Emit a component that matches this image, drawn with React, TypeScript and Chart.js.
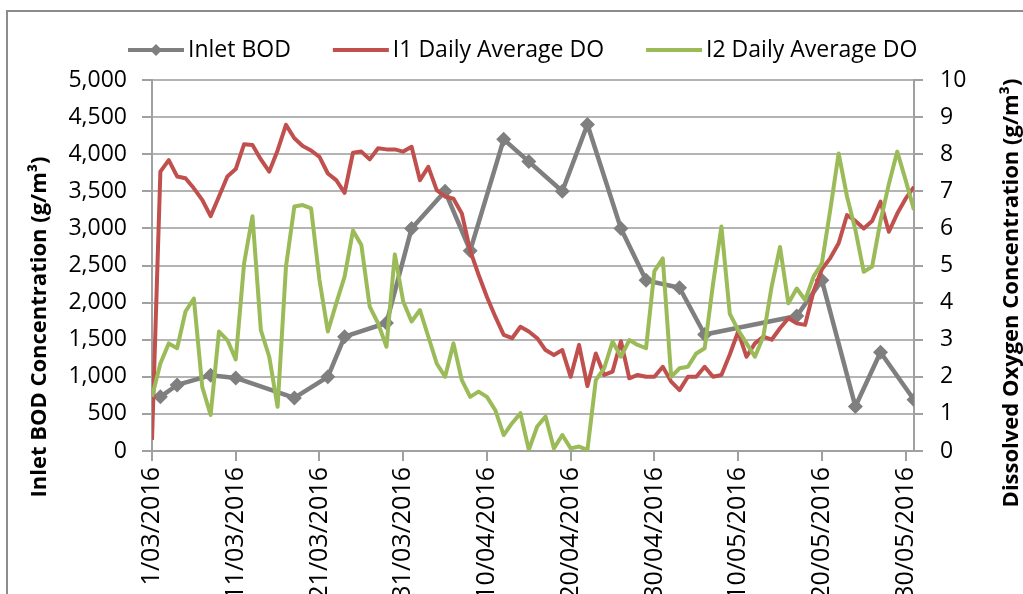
import React, { useEffect, useRef } from 'react';
import { Chart, registerables } from 'chart.js';

Chart.register(...registerables);

// Day offsets are counted from 1 March 2016 (day 0)
const xDayMin = 0;
const xDayMax = 91;
const xTickStep = 10;

const bodDays = [1, 3, 7, 10, 17, 21, 23, 28, 31, 35, 38, 42, 45, 49, 52, 56, 59, 63, 66, 77, 80, 84, 87, 91];
const bodValues = [730, 890, 1020, 985, 715, 1000, 1540, 1725, 3000, 3500, 2700, 4200, 3900, 3500, 4400, 3000, 2300, 2200, 1570, 1820, 2300, 600, 1330, 690];

const i1DailyDO = [
  0.3, 7.53, 7.84, 7.4, 7.35, 7.08, 6.77, 6.33, 6.86, 7.4,
  7.6, 8.27, 8.25, 7.86, 7.53, 8.1, 8.79, 8.43, 8.22, 8.1,
  7.93, 7.48, 7.3, 6.96, 8.04, 8.07, 7.86, 8.16, 8.13, 8.13,
  8.07, 8.2, 7.3, 7.66, 7.03, 6.86, 6.8, 6.4, 5.4, 4.75,
  4.15, 3.62, 3.13, 3.04, 3.35, 3.22, 3.04, 2.72, 2.59, 2.72,
  2.0, 2.86, 1.75, 2.63, 2.05, 2.14, 2.96, 1.96, 2.05, 2.0,
  2.0, 2.27, 1.87, 1.64, 2.0, 2.0, 2.27, 2.0, 2.05, 2.6,
  3.22, 2.54, 2.9, 3.08, 3.0, 3.31, 3.58, 3.44, 3.4, 4.3,
  4.9, 5.2, 5.6, 6.36, 6.2, 6.0, 6.2, 6.72, 5.91, 6.4,
  6.8, 7.12,
];

const i2DailyDO = [
  1.46, 2.36, 2.9, 2.77, 3.76, 4.11, 1.73, 0.97, 3.22, 2.99,
  2.47, 5.06, 6.33, 3.26, 2.54, 1.19, 4.97, 6.59, 6.63, 6.54,
  4.61, 3.22, 3.98, 4.7, 5.94, 5.55, 3.89, 3.44, 2.81, 5.3,
  4.03, 3.49, 3.8, 3.08, 2.36, 2.0, 2.9, 1.91, 1.46, 1.6,
  1.46, 1.1, 0.43, 0.75, 1.02, 0.03, 0.66, 0.93, 0.07, 0.43,
  0.07, 0.12, 0.03, 1.91, 2.23, 2.95, 2.54, 2.99, 2.86, 2.77,
  4.85, 5.19, 2.0, 2.23, 2.27, 2.63, 2.77, 4.5, 6.05, 3.7,
  3.26, 2.9, 2.54, 3.08, 4.43, 5.5, 3.98, 4.38, 4.07, 4.7,
  5.06, 6.5, 8.02, 6.86, 5.96, 4.83, 4.97, 6.2, 7.2, 8.07,
  7.3, 6.5,
];

const seriesNames = ['Inlet BOD', 'I1 Daily Average DO', 'I2 Daily Average DO'];
const seriesColors = ['#7f7f7f', '#c0504d', '#9bbb59'];
const leftTitle = 'Inlet BOD Concentration (g/m\u00B3)';
const rightTitle = 'Dissolved Oxygen Concentration (g/m\u00B3)';
const bodAxis = { min: 0, max: 5000, step: 500 };
const doAxis = { min: 0, max: 10, step: 1 };

const FONT = '"Open Sans", "DejaVu Sans", sans-serif';
const CANVAS_W = 1023;
const CANVAS_H = 660;

function dayLabel(d: number): string {
  const dt = new Date(2016, 2, 1 + d);
  return `${dt.getDate()}/${String(dt.getMonth() + 1).padStart(2, '0')}/${dt.getFullYear()}`;
}

const decorPlugin = {
  id: 'decor',
  beforeDraw(chart: any) {
    const ctx = chart.ctx;
    ctx.save();
    ctx.fillStyle = '#ffffff';
    ctx.fillRect(0, 0, chart.width, chart.height);
    ctx.strokeStyle = '#8c8c8c';
    ctx.lineWidth = 2;
    ctx.beginPath();
    ctx.moveTo(7, chart.height);
    ctx.lineTo(7, 11);
    ctx.lineTo(chart.width, 11);
    ctx.stroke();
    ctx.restore();
  },
  afterDraw(chart: any) {
    const ctx = chart.ctx;
    const area = chart.chartArea;
    ctx.save();
    // axis titles
    ctx.fillStyle = '#000';
    ctx.font = `bold 22px ${FONT}`;
    ctx.textAlign = 'center';
    ctx.textBaseline = 'middle';
    ctx.save();
    ctx.translate(area.left - 112, area.top + 247);
    ctx.rotate(-Math.PI / 2);
    ctx.fillText(leftTitle, 0, 0);
    ctx.restore();
    ctx.save();
    ctx.translate(area.right + 98, area.top + 213);
    ctx.rotate(-Math.PI / 2);
    ctx.fillText(rightTitle, 0, 0);
    ctx.restore();

    // legend
    const ly = 50;
    const lineLen = 56;
    const gap = 4;
    const spacing = 42;
    let x = 128;
    ctx.font = `23px ${FONT}`;
    ctx.textAlign = 'left';
    seriesNames.forEach((name, i) => {
      ctx.strokeStyle = seriesColors[i];
      ctx.lineWidth = 4;
      ctx.lineCap = 'butt';
      ctx.beginPath();
      ctx.moveTo(x, ly);
      ctx.lineTo(x + lineLen, ly);
      ctx.stroke();
      if (i === 0) {
        const cx = x + lineLen / 2;
        const r = 6;
        ctx.fillStyle = seriesColors[i];
        ctx.beginPath();
        ctx.moveTo(cx, ly - r);
        ctx.lineTo(cx + r, ly);
        ctx.lineTo(cx, ly + r);
        ctx.lineTo(cx - r, ly);
        ctx.closePath();
        ctx.fill();
      }
      ctx.fillStyle = '#000';
      const tx = x + lineLen + gap;
      ctx.fillText(name, tx, ly);
      x = tx + ctx.measureText(name).width + spacing;
    });
    ctx.restore();
  },
};

export default function App() {
  const ref = useRef<HTMLCanvasElement | null>(null);

  useEffect(() => {
    document.body.style.margin = '0';
    document.body.style.overflow = 'hidden';
    const canvas = ref.current;
    if (!canvas) return;

    const gridColor = '#b4b4b4';
    const axisColor = '#a0a0a0';

    const chart = new Chart(canvas, {
      type: 'line',
      data: {
        datasets: [
          {
            label: seriesNames[0],
            data: bodDays.map((d, i) => ({ x: d, y: bodValues[i] })),
            yAxisID: 'y',
            borderColor: seriesColors[0],
            backgroundColor: seriesColors[0],
            borderWidth: 4.5,
            pointStyle: 'rectRot',
            pointRadius: 7.5,
            pointBorderWidth: 0,
            pointBackgroundColor: seriesColors[0],
            tension: 0,
            order: 2,
            borderJoinStyle: 'round',
          },
          {
            label: seriesNames[1],
            data: i1DailyDO.map((v, i) => ({ x: i, y: v })),
            yAxisID: 'y2',
            borderColor: seriesColors[1],
            backgroundColor: seriesColors[1],
            borderWidth: 4,
            pointRadius: 0,
            tension: 0,
            order: 1,
            borderJoinStyle: 'round',
          },
          {
            label: seriesNames[2],
            data: i2DailyDO.map((v, i) => ({ x: i, y: v })),
            yAxisID: 'y2',
            borderColor: seriesColors[2],
            backgroundColor: seriesColors[2],
            borderWidth: 4,
            pointRadius: 0,
            tension: 0,
            order: 0,
            borderJoinStyle: 'round',
          },
        ],
      },
      options: {
        responsive: false,
        animation: false,
        devicePixelRatio: 1,
        layout: { padding: { top: 80, left: 0, right: 0, bottom: 0 } },
        plugins: {
          legend: { display: false },
          tooltip: { enabled: false },
        },
        scales: {
          x: {
            type: 'linear',
            min: xDayMin,
            max: xDayMax,
            afterFit(scale: any) {
              scale.height = CANVAS_H - 451;
            },
            grid: {
              drawOnChartArea: false,
              drawTicks: true,
              tickLength: 10,
              color: axisColor,
              lineWidth: 2,
            },
            border: { display: true, color: axisColor, width: 2 },
            ticks: {
              stepSize: xTickStep,
              includeBounds: false,
              autoSkip: false,
              minRotation: 90,
              maxRotation: 90,
              padding: 6,
              color: '#000',
              font: { family: FONT, size: 25 },
              callback: (v: any) => dayLabel(Number(v)),
            },
          },
          y: {
            type: 'linear',
            position: 'left',
            min: bodAxis.min,
            max: bodAxis.max,
            afterFit(scale: any) {
              scale.width = 152;
            },
            grid: {
              color: gridColor,
              lineWidth: 2,
              tickLength: 10,
              tickColor: axisColor,
            },
            border: { display: true, color: axisColor, width: 2 },
            ticks: {
              stepSize: bodAxis.step,
              padding: 15,
              color: '#000',
              font: { family: FONT, size: 23 },
              callback: (v: any) => Number(v).toLocaleString('en-US'),
            },
          },
          y2: {
            type: 'linear',
            position: 'right',
            min: doAxis.min,
            max: doAxis.max,
            afterFit(scale: any) {
              scale.width = CANVAS_W - 914;
            },
            grid: {
              drawOnChartArea: false,
              tickLength: 9,
              color: axisColor,
              lineWidth: 2,
            },
            border: { display: true, color: axisColor, width: 2 },
            ticks: {
              stepSize: doAxis.step,
              padding: 17,
              color: '#000',
              font: { family: FONT, size: 23 },
            },
          },
        },
      },
      plugins: [decorPlugin],
    } as any);

    return () => chart.destroy();
  }, []);

  return (
    <div style={{ width: CANVAS_W, height: 594, overflow: 'hidden', position: 'relative', background: '#fff' }}>
      <canvas ref={ref} width={CANVAS_W} height={CANVAS_H} style={{ display: 'block' }} />
    </div>
  );
}
